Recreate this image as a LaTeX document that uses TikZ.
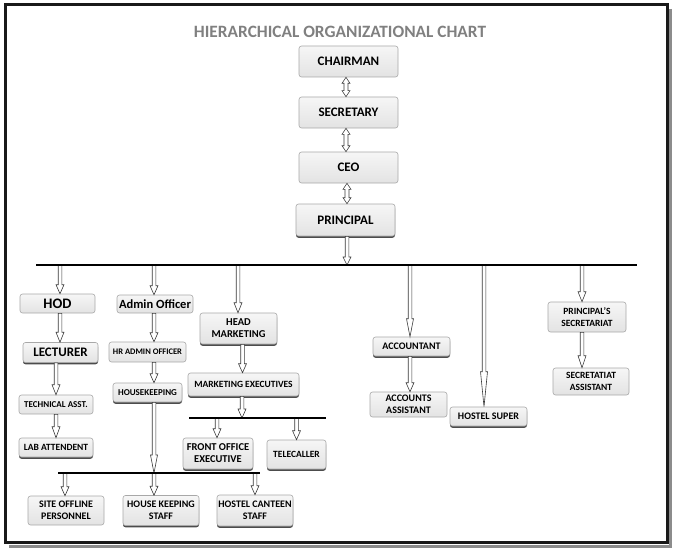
\documentclass[tikz,border=0pt]{standalone}
\usepackage{fontspec}
\setmainfont{Carlito}
\usetikzlibrary{calc,shadows}
\definecolor{boxline}{HTML}{A8A8A8}
\definecolor{boxtop}{HTML}{F6F6F6}
\definecolor{boxbot}{HTML}{E3E3E3}
\definecolor{arrline}{HTML}{3A3A3A}
\definecolor{titlegray}{HTML}{808080}
\newcommand\fsz[1]{\fontsize{#1}{12}\selectfont}
\begin{document}
\begin{tikzpicture}[x=1pt,y=-1pt,
  aw/.store in=\arrW, ahw/.store in=\arrHW, ahl/.store in=\arrHL,
  box/.style={draw=boxline, line width=0.6pt, rounded corners=2.5pt, top color=boxtop, bottom color=boxbot,
    align=center, inner sep=0pt, text=black},
  fs/.style={font=\bfseries\fsz{#1}},
  wh/.style 2 args={minimum width=#1pt, minimum height=#2pt},
  shd/.style={drop shadow={shadow xshift=0pt, shadow yshift=-1.8pt, fill=black!70, opacity=1}},
  arr/.style={draw=arrline, fill=white, line width=0.6pt, aw=1.8pt, ahw=4pt, ahl=9pt,
    to path={let \p1=(\tikztostart), \p2=(\tikztotarget) in
      (\x1-\arrW,\y1) -- (\x1-\arrW,\y2+\arrHL) -- (\x1-\arrHW,\y2+\arrHL) -- (\x1,\y2)
      -- (\x1+\arrHW,\y2+\arrHL) -- (\x1+\arrW,\y2+\arrHL) -- (\x1+\arrW,\y1) -- cycle}},
  dbl/.style={draw=arrline, fill=white, line width=0.6pt, aw=2pt, ahw=4pt, ahl=6pt,
    to path={let \p1=(\tikztostart), \p2=(\tikztotarget) in
      (\x1,\y1) -- (\x1+\arrHW,\y1-\arrHL) -- (\x1+\arrW,\y1-\arrHL) -- (\x1+\arrW,\y2+\arrHL)
      -- (\x1+\arrHW,\y2+\arrHL) -- (\x1,\y2) -- (\x1-\arrHW,\y2+\arrHL) -- (\x1-\arrW,\y2+\arrHL)
      -- (\x1-\arrW,\y1-\arrHL) -- (\x1-\arrHW,\y1-\arrHL) -- cycle}},
  bus/.style={draw=black, line width=#1pt},
]
\useasboundingbox (0,0) rectangle (678,551);
% frame
\draw[line width=3pt, black!45] (670.5,9) -- (670.5,546) -- (9,546);
\draw[line width=3pt, black!90] (5,5) rectangle (667,542.5);

\node[fs=17.3, text=titlegray] (title) at (340,32) {HIERARCHICAL ORGANIZATIONAL CHART};

% top chain
\node[box, wh={99}{31}, fs=13] (chair) at (348.5,61.5) {CHAIRMAN};
\node[box, wh={99}{31}, fs=13] (sec) at (348.5,112.5) {SECRETARY};
\node[box, wh={99}{31}, fs=13] (ceo) at (348.5,167.5) {CEO};
\node[box, wh={99}{32}, fs=13, shd] (prin) at (345.5,220) {PRINCIPAL};

% column 1
\node[box, wh={75}{19}, fs=14.5] (hod) at (57.5,303.5) {HOD};
\node[box, wh={75}{20}, fs=13, shd] (lect) at (60.5,352.5) {LECTURER};
\node[box, wh={74}{19}, fs=9] (tech) at (56,404.5) {TECHNICAL ASST.};
\node[box, wh={74}{19}, fs=9.5, shd] (lab) at (56,447.5) {LAB ATTENDENT};

% column 2
\node[box, wh={76}{18}, fs=12.5] (adm) at (155,304) {Admin Officer};
\node[box, wh={77}{20}, fs=8.5] (hr) at (147.5,352) {HR ADMIN OFFICER};
\node[box, wh={69}{19}, fs=9, shd] (hk) at (147.5,392.5) {HOUSEKEEPING};

% bottom row
\node[box, wh={76}{29}, fs=10] (site) at (66,510.5) {SITE OFFLINE\\PERSONNEL};
\node[box, wh={76}{30}, fs=10, shd] (hks) at (161,510.5) {HOUSE KEEPING\\STAFF};
\node[box, wh={76}{31}, fs=10, shd] (hcs) at (255,510.5) {HOSTEL CANTEEN\\STAFF};

% column 3
\node[box, wh={77}{31}, fs=10.5, shd] (hm) at (238.5,328.5) {HEAD\\MARKETING};
\node[box, wh={111}{23}, fs=9.5, shd] (me) at (243.5,384.5) {MARKETING EXECUTIVES};
\node[box, wh={70}{31}, fs=10.5, shd] (fo) at (218,453.5) {FRONT OFFICE\\EXECUTIVE};
\node[box, wh={59}{29}, fs=9.5, shd] (tel) at (296.5,454.5) {TELECALLER};

% right side
\node[box, wh={77}{19}, fs=10, shd] (acc) at (411.5,346.5) {ACCOUNTANT};
\node[box, wh={77}{25}, fs=10] (acca) at (408.5,404.5) {ACCOUNTS\\ASSISTANT};
\node[box, wh={77}{19}, fs=10, shd] (hs) at (488.5,416.5) {HOSTEL SUPER};
\node[box, wh={78}{30}, fs=9.5] (ps) at (587,317) {PRINCIPAL'S\\SECRETARIAT};
\node[box, wh={76}{27}, fs=9.5] (psa) at (591,381.5) {SECRETATIAT\\ASSISTANT};

% bus coordinates
\coordinate (busL) at (36,265);
\coordinate (busR) at (637,265);
\coordinate (mbL) at (189,418);
\coordinate (mbR) at (326,418);
\coordinate (bbL) at (58,473);
\coordinate (bbR) at (260,473);

% double arrows
\draw[dbl] ([xshift=-2.5pt]chair.south) to (sec.north);
\draw[dbl] ([xshift=-2.5pt]sec.south) to (ceo.north);
\draw[dbl] ([xshift=-1.5pt]ceo.south) to (prin.north);
\draw[arr, ahl=8pt] ([xshift=1.5pt]prin.south) to ([xshift=1.5pt]prin.south |- busL);

% drops from top bus
\draw[arr] ([xshift=2.5pt]hod.north |- busL) to (hod.north);
\draw[arr] ([xshift=-1pt]adm.north |- busL) to (adm.north);
\draw[arr, ahl=10pt] ([xshift=-0.5pt]hm.north |- busL) to (hm.north);
\draw[arr, ahl=18pt, ahw=3.5pt] ([xshift=-1.5pt]acc.north |- busL) to (acc.north);
\draw[arr, ahl=35pt, ahw=3.5pt] ([xshift=-4.5pt]hs.north |- busL) to (hs.north);
\draw[arr, ahl=10pt] ([xshift=-5pt]ps.north |- busL) to (ps.north);

% chains
\draw[arr, ahl=10pt] ([xshift=2.5pt]hod.south) to (lect.north);
\draw[arr, ahl=10pt] ([xshift=-4.5pt]lect.south) to (tech.north);
\draw[arr, ahl=11pt] (tech.south) to (lab.north);
\draw[arr] ([xshift=-1pt]adm.south) to (hr.north);
\draw[arr] ([xshift=6.5pt]hr.south) to (hk.north);
\draw[arr, ahl=18pt, ahw=3.5pt] ([xshift=6.5pt]hk.south) to ([xshift=6.5pt]hk.south |- bbL);
\draw[arr] ([xshift=4pt]hm.south) to (me.north);
\draw[arr] ([xshift=-1.5pt]me.south) to ([xshift=-1.5pt]me.south |- mbL);
\draw[arr] ([xshift=-1.5pt]acc.south) to (acca.north);
\draw[arr, ahl=12pt] ([xshift=-5pt]ps.south) to (psa.north);

% drops from sub buses
\draw[arr] ([xshift=-1pt]fo.north |- mbL) to (fo.north);
\draw[arr] (tel.north |- mbL) to (tel.north);
\draw[arr] ([xshift=-1pt]site.north |- bbL) to (site.north);
\draw[arr] ([xshift=-7pt]hks.north |- bbL) to (hks.north);
\draw[arr] (hcs.north |- bbL) to (hcs.north);

% buses
\draw[bus=2] (busL) -- (busR);
\draw[bus=1.5] (mbL) -- (mbR);
\draw[bus=1.5] (bbL) -- (bbR);
\end{tikzpicture}
\end{document}
